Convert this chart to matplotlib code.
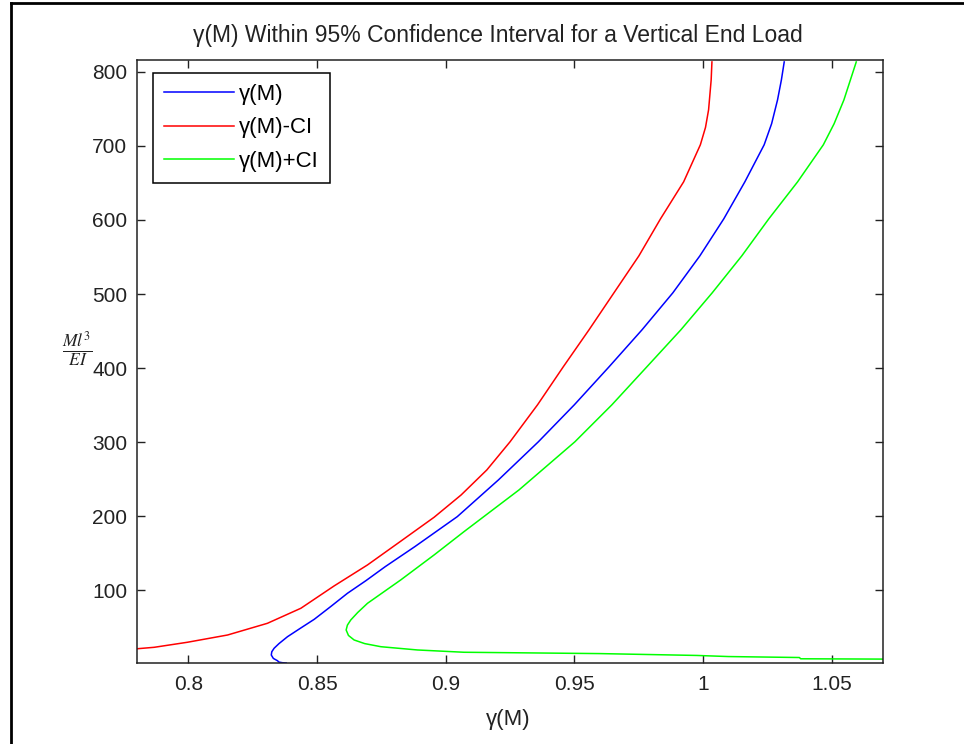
import numpy as np
import matplotlib.pyplot as plt
from matplotlib.lines import Line2D

plt.rcParams['font.family'] = ['Liberation Sans', 'DejaVu Sans']
plt.rcParams['mathtext.fontset'] = 'stix'

# gamma(M) along the load parameter M l^3 / EI
m_mid = [1.8, 2.2, 3.0, 4.9, 8.0, 12.6, 17.0, 21.7, 28.0, 37.3, 48.0, 60.8, 78.0,
         95.9, 113.0, 131.9, 158.9, 199.4, 249.0, 300.4, 350.4, 401.7, 451.6,
         501.6, 551.5, 601.5, 651.5, 701.5, 730.0, 762.1, 789.1, 813.4]
g_mid = [0.8380, 0.8365, 0.8352, 0.8346, 0.8330, 0.8322, 0.8324, 0.8333, 0.8352,
         0.8385, 0.8432, 0.8489, 0.8553, 0.8618, 0.8690, 0.8765, 0.8880, 0.9045,
         0.9205, 0.9360, 0.9500, 0.9635, 0.9763, 0.9883, 0.9988, 1.0081, 1.0163,
         1.0238, 1.0267, 1.0290, 1.0305, 1.0316]

# lower confidence bound
m_low = [20.0, 20.7, 23.0, 29.8, 39.6, 55.4, 75.7, 105.8, 134.2, 166.2, 198.6,
         228.7, 262.5, 300.4, 350.4, 401.7, 451.6, 501.6, 551.5, 601.5, 651.5,
         701.5, 725.0, 748.8, 789.1, 813.4]
g_low = [0.7770, 0.7789, 0.7867, 0.7996, 0.8152, 0.8307, 0.8437, 0.8566, 0.8696,
         0.8825, 0.8955, 0.9060, 0.9160, 0.9250, 0.9357, 0.9457, 0.9557, 0.9654,
         0.9751, 0.9835, 0.9925, 0.9990, 1.0010, 1.0022, 1.0032, 1.0035]

# upper confidence bound
m_up = [7.0, 7.5, 9.2, 10.5, 12.0, 14.5, 16.3, 19.4, 23.8, 28.0, 32.9, 39.0, 46.4,
        53.0, 59.9, 70.0, 82.4, 113.9, 147.7, 179.1, 235.5, 300.4, 350.4, 401.7,
        451.6, 501.6, 551.5, 601.5, 651.5, 701.5, 730.0, 762.1, 813.4]
g_up = [1.0750, 1.0380, 1.0375, 1.0100, 0.9976, 0.9600, 0.9071, 0.8890, 0.8748,
        0.8685, 0.8644, 0.8622, 0.8613, 0.8618, 0.8631, 0.8658, 0.8696, 0.8825,
        0.8955, 0.9071, 0.9285, 0.9502, 0.9646, 0.9782, 0.9914, 1.0036, 1.0151,
        1.0256, 1.0368, 1.0468, 1.0510, 1.0548, 1.0596]

fig = plt.figure(figsize=(9.64, 7.44), dpi=100)
ax = fig.add_axes([137/964, 1 - 663/744, 746/964, 603/744])

ax.plot(g_mid, m_mid, color=(0, 0, 1), lw=1.1, label='γ(M)')
ax.plot(g_low, m_low, color=(1, 0, 0), lw=1.1, label='γ(M)-CI')
ax.plot(g_up, m_up, color=(0, 1, 0), lw=1.1, label='γ(M)+CI')

ax.set_xlim(0.78, 1.07)
ax.set_ylim(1.8, 816)
ax.set_xticks([0.8, 0.85, 0.9, 0.95, 1.0, 1.05])
ax.set_xticklabels(['0.8', '0.85', '0.9', '0.95', '1', '1.05'])
ax.set_yticks(np.arange(100, 801, 100))

ax.tick_params(direction='in', length=6, width=1, top=True, right=True,
               labelsize=15, colors='#222222')
ax.tick_params(axis='x', pad=9)
ax.tick_params(axis='y', pad=7)
for s in ax.spines.values():
    s.set_linewidth(1.1)
    s.set_color('#222222')

ax.set_title('γ(M) Within 95% Confidence Interval for a Vertical End Load',
             fontsize=16.5, pad=13, color='#222222', x=0.484)
ax.set_xlabel('γ(M)', fontsize=16, color='#222222')
ax.xaxis.set_label_coords(0.497, -0.077)
ax.set_ylabel(r'$\frac{Ml^3}{EI}$', fontsize=18, rotation=0, va='center',
              color='#222222')
ax.yaxis.set_label_coords(-0.080, 0.522)

leg = ax.legend(loc='upper left', bbox_to_anchor=(16/746, 1 - 13/603),
                borderaxespad=0, fontsize=16, handlelength=3.15, handletextpad=0.23,
                borderpad=0.5, labelspacing=0.55, fancybox=False, framealpha=1,
                edgecolor='black')
leg.get_frame().set_linewidth(1.1)

# window border, top and left edges
fig.add_artist(Line2D([11/964, 1], [1 - 3/744, 1 - 3/744], color='black', lw=2))
fig.add_artist(Line2D([11/964, 11/964], [0, 1 - 3/744], color='black', lw=2))

fig.savefig('out.png', dpi=100)
